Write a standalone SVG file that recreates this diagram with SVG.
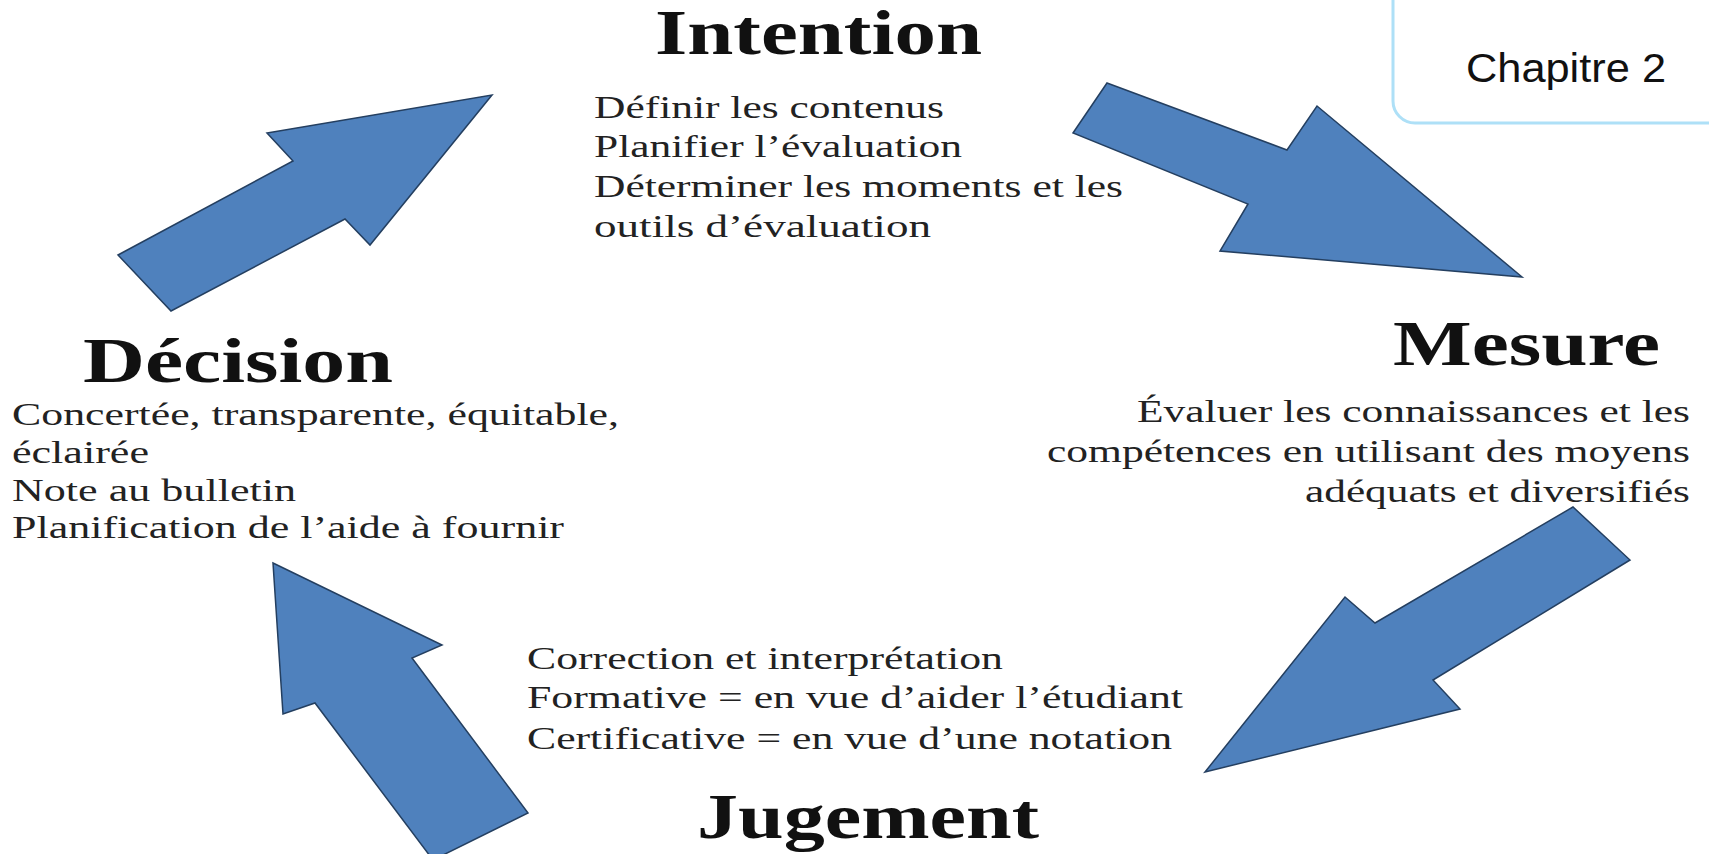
<svg xmlns="http://www.w3.org/2000/svg" width="1709" height="854" viewBox="0 0 1709 854">
<style>
.title{font-family:"Liberation Serif","Times New Roman",serif;font-weight:bold;font-size:64px;fill:#111}
.body{font-family:"Liberation Serif","Times New Roman",serif;font-size:31px;fill:#222}
.arrow{fill:#4f81bd;stroke:#243f60;stroke-width:1.5;stroke-linejoin:miter}
.chap{font-family:"Liberation Sans",Arial,sans-serif;font-size:40px;fill:#111}
</style>
<rect width="1709" height="854" fill="#ffffff"/>
<g id="connectors">
<polygon id="arrow-decision-intention" class="arrow" points="118,255 293,161 267,133 492,95 370,245 345,219 171,311"/>
<polygon id="arrow-intention-mesure" class="arrow" points="1107,83 1287,150 1317,106 1522,277 1220,251 1248,204 1073,133"/>
<polygon id="arrow-mesure-jugement" class="arrow" points="1573,507 1375,623 1345,597 1205,772 1460,709 1433,680 1630,560"/>
<polygon id="arrow-jugement-decision" class="arrow" points="273,563 442,645 412,658 528,813 433,860 315,703 283,714"/>
</g>
<g id="chapitre">
<rect x="1393" y="-30" width="340" height="153" rx="22" fill="#ffffff" stroke="#aee0f7" stroke-width="3"/>
<text class="chap" x="1466" y="82" textLength="200" lengthAdjust="spacingAndGlyphs">Chapitre 2</text>
</g>
<g id="intention">
<text class="title" x="655" y="54" textLength="327" lengthAdjust="spacingAndGlyphs">Intention</text>
<text class="body" x="594" y="118" textLength="350" lengthAdjust="spacingAndGlyphs">Définir les contenus</text>
<text class="body" x="594" y="157" textLength="368" lengthAdjust="spacingAndGlyphs">Planifier l’évaluation</text>
<text class="body" x="594" y="197" textLength="529" lengthAdjust="spacingAndGlyphs">Déterminer les moments et les</text>
<text class="body" x="594" y="237" textLength="337" lengthAdjust="spacingAndGlyphs">outils d’évaluation</text>
</g>
<g id="mesure">
<text class="title" x="1393" y="365" textLength="267" lengthAdjust="spacingAndGlyphs">Mesure</text>
<text class="body" x="1137" y="422" textLength="553" lengthAdjust="spacingAndGlyphs">Évaluer les connaissances et les</text>
<text class="body" x="1047" y="462" textLength="643" lengthAdjust="spacingAndGlyphs">compétences en utilisant des moyens</text>
<text class="body" x="1305" y="502" textLength="385" lengthAdjust="spacingAndGlyphs">adéquats et diversifiés</text>
</g>
<g id="decision">
<text class="title" x="83" y="382" textLength="310" lengthAdjust="spacingAndGlyphs">Décision</text>
<text class="body" x="12" y="425" textLength="607" lengthAdjust="spacingAndGlyphs">Concertée, transparente, équitable,</text>
<text class="body" x="12" y="463" textLength="137" lengthAdjust="spacingAndGlyphs">éclairée</text>
<text class="body" x="12" y="501" textLength="284" lengthAdjust="spacingAndGlyphs">Note au bulletin</text>
<text class="body" x="12" y="538" textLength="552" lengthAdjust="spacingAndGlyphs">Planification de l’aide à fournir</text>
</g>
<g id="jugement">
<text class="body" x="527" y="669" textLength="476" lengthAdjust="spacingAndGlyphs">Correction et interprétation</text>
<text class="body" x="527" y="708" textLength="656" lengthAdjust="spacingAndGlyphs">Formative = en vue d’aider l’étudiant</text>
<text class="body" x="527" y="749" textLength="645" lengthAdjust="spacingAndGlyphs">Certificative = en vue d’une notation</text>
<text class="title" x="697" y="838" textLength="342" lengthAdjust="spacingAndGlyphs">Jugement</text>
</g>
</svg>
